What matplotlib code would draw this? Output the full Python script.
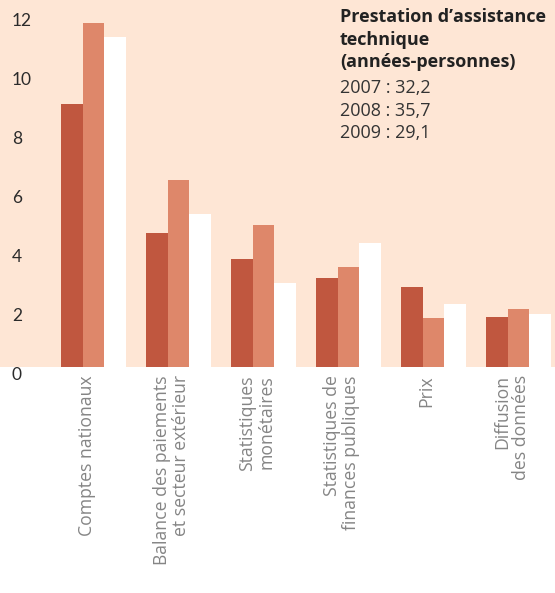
import numpy as np
import matplotlib.pyplot as plt

categories = ["Comptes nationaux",
              "Balance des paiements\net secteur extérieur",
              "Statistiques\nmonétaires",
              "Statistiques de\nfinances publiques",
              "Prix",
              "Diffusion\ndes données"]
v2007 = [8.9, 4.55, 3.65, 3.0, 2.7, 1.7]
v2008 = [11.65, 6.35, 4.8, 3.4, 1.65, 1.95]
v2009 = [11.2, 5.2, 2.85, 4.2, 2.15, 1.8]
yticks = [0, 2, 4, 6, 8, 10, 12]
title_lines = "Prestation d\u2019assistance\ntechnique\n(années-personnes)"
total_lines = "2007 : 32,2\n2008 : 35,7\n2009 : 29,1"

c07, c08, c09 = "#c0573f", "#de876a", "#ffffff"
bg = "#fee6d5"

fig = plt.figure(figsize=(5.55, 5.93), dpi=100)
ax = fig.add_axes([0, 1 - 367/593, 1, 367/593])
ax.set_facecolor(bg)
for s in ax.spines.values():
    s.set_visible(False)

x = np.arange(len(categories))
w = 0.254
ax.bar(x - w, v2007, w, color=c07, align="center")
ax.bar(x, v2008, w, color=c08, align="center")
ax.bar(x + w, v2009, w, color=c09, align="center")

ax.set_xlim(-1.1, 5.43)
ax.set_ylim(0, 12.44)

ax.set_yticks(yticks)
ax.set_yticklabels([str(t) for t in yticks], fontsize=12.5, color="#2b2b2b",
                   family="Lato")
ax.tick_params(axis="y", length=0, pad=-8.6)
for lab in ax.get_yticklabels():
    lab.set_ha("left")
    lab.set_va("top")

ax.set_xticks(x - 0.08)
ax.set_xticklabels(categories, rotation=90, ha="center", va="top",
                   multialignment="right", fontsize=12.7, color="#858585",
                   family="Open Sans", linespacing=1.08)
ax.tick_params(axis="x", length=0, pad=6)

ax.text(340/555, 1 - 8/367, title_lines, transform=ax.transAxes,
        ha="left", va="top", fontsize=13, fontweight="bold",
        color="#222222", family="Open Sans", linespacing=1.33)
ax.text(340/555, 1 - 79/367, total_lines, transform=ax.transAxes,
        ha="left", va="top", fontsize=13, color="#333333",
        family="Open Sans", linespacing=1.33)

fig.savefig("out.png", dpi=100, facecolor="white")
